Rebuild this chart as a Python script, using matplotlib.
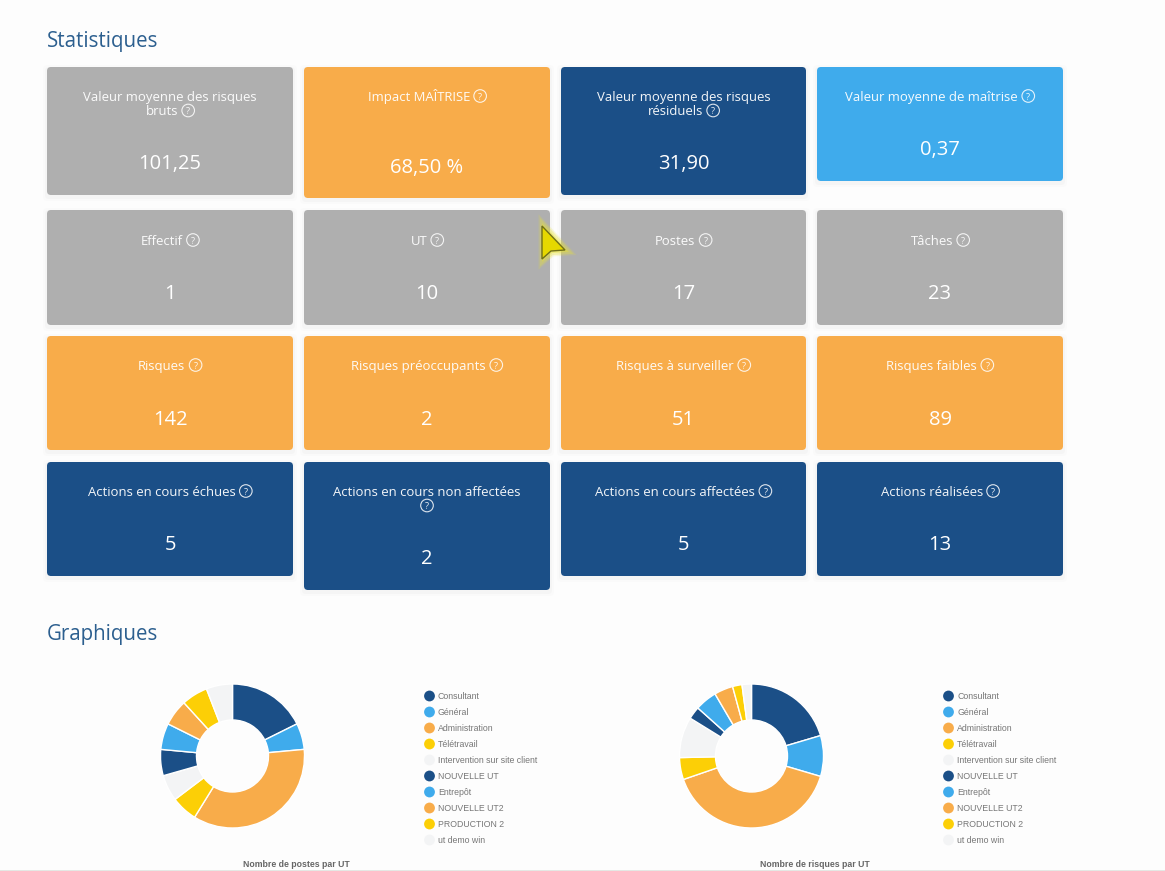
import matplotlib
matplotlib.use("Agg")
import matplotlib.pyplot as plt
from matplotlib.patches import FancyBboxPatch, Circle, Polygon, Rectangle

W, H = 1165, 871
FONT = "Open Sans"

GRAY, ORANGE, NAVY, BLUE = "#afafaf", "#f8ac4a", "#1b4f87", "#3fabec"
YELLOW, LIGHT = "#fccf06", "#f3f4f5"

card_labels = [
    ["Valeur moyenne des risques\nbruts", "Impact MAÎTRISE", "Valeur moyenne des risques\nrésiduels", "Valeur moyenne de maîtrise"],
    ["Effectif", "UT", "Postes", "Tâches"],
    ["Risques", "Risques préoccupants", "Risques à surveiller", "Risques faibles"],
    ["Actions en cours échues", "Actions en cours non affectées\n", "Actions en cours affectées", "Actions réalisées"],
]
card_values = [
    ["101,25", "68,50 %", "31,90", "0,37"],
    ["1", "10", "17", "23"],
    ["142", "2", "51", "89"],
    ["5", "2", "5", "13"],
]
card_colors = [
    [GRAY, ORANGE, NAVY, BLUE],
    [GRAY, GRAY, GRAY, GRAY],
    [ORANGE, ORANGE, ORANGE, ORANGE],
    [NAVY, NAVY, NAVY, NAVY],
]
col_left = [47, 304, 561, 817]
col_right = [293, 550, 806, 1063]
row_top = [67, 210, 336, 462]
row_bottom = [
    [195, 198, 195, 181],
    [325, 325, 325, 325],
    [450, 450, 450, 450],
    [576, 590, 576, 576],
]
value_baseline = [
    [169, 173, 169, 155],
    [299, 299, 299, 299],
    [425, 425, 425, 425],
    [550, 564, 550, 550],
]

legend_labels = ["Consultant", "Général", "Administration", "Télétravail",
                 "Intervention sur site client", "NOUVELLE UT", "Entrepôt",
                 "NOUVELLE UT2", "PRODUCTION 2", "ut demo win"]
slice_colors = [NAVY, BLUE, ORANGE, YELLOW, LIGHT, NAVY, BLUE, ORANGE, YELLOW, LIGHT]
postes_par_ut = [3, 1, 6, 1, 1, 1, 1, 1, 1, 1]
risques_par_ut = [29, 13, 57, 7, 13, 4, 7, 6, 3, 3]

fig = plt.figure(figsize=(W / 100, H / 100), dpi=100, facecolor="#fdfdfd")
ax = fig.add_axes([0, 0, 1, 1])
ax.set_xlim(0, W)
ax.set_ylim(H, 0)
ax.axis("off")

ax.text(47, 47, "Statistiques", color="#2c5f8f", fontsize=14.8, family=FONT, va="baseline")
ax.text(47, 640, "Graphiques", color="#2c5f8f", fontsize=14.8, family=FONT, va="baseline")

renderer = fig.canvas.get_renderer()


def help_icon(cx, cy):
    ax.add_patch(Circle((cx, cy), 6.3, fill=False, ec="white", lw=0.8, alpha=0.85, zorder=4))
    ax.text(cx, cy, "?", color="white", fontsize=6.5, family=FONT, ha="center",
            va="center_baseline", alpha=0.9, zorder=4)


for r, row in enumerate(card_labels):
    for c, label in enumerate(row):
        x0, x1 = col_left[c], col_right[c]
        y0, y1 = row_top[r], row_bottom[r][c]
        for grow, alpha in ((4, 0.012), (2, 0.02)):
            ax.add_patch(FancyBboxPatch((x0 + 4 - grow, y0 + 6 - grow), x1 - x0 - 8 + 2 * grow,
                                        y1 - y0 - 8 + 2 * grow,
                                        boxstyle="round,pad=4", fc="#000000",
                                        ec="none", alpha=alpha, zorder=1))
        ax.add_patch(FancyBboxPatch((x0 + 4, y0 + 4), x1 - x0 - 8, y1 - y0 - 8,
                                    boxstyle="round,pad=4", fc=card_colors[r][c], ec="none", zorder=2))
        cx = (x0 + x1) / 2
        lines = label.split("\n")
        ly = row_top[r] + 29 if r != 1 else row_top[r] + 30
        for i, line in enumerate(lines):
            yy = ly + i * 14.5
            last = i == len(lines) - 1
            if not line:
                help_icon(cx, yy)
                continue
            icon_w = 16.5 if last else 0
            t = ax.text(cx - icon_w / 2, yy + 4.5, line, color="white", fontsize=9.45, family=FONT,
                        ha="center", va="baseline", zorder=4, alpha=0.95)
            if last:
                bb = t.get_window_extent(renderer)
                help_icon(bb.x1 + 10.2, yy)
        ax.text(cx, value_baseline[r][c], card_values[r][c], color="white", fontsize=14.5, family=FONT,
                ha="center", va="baseline", zorder=4)

# mouse cursor with its highlight
for grow, alpha in ((5, 0.18), (3, 0.3)):
    ax.add_patch(Polygon([(542, 223), (542, 262), (552, 253), (569, 252)], closed=True,
                         fc="#e8e23a", ec="#e8e23a", lw=grow, alpha=alpha, zorder=5))
ax.add_patch(Polygon([(542, 226), (542, 259), (551, 251), (565, 250)], closed=True,
                     fc="#e6d800", ec="#6f6f18", lw=1.0, zorder=6))

charts = [
    (232.5, 756, postes_par_ut, 429, "Nombre de postes par UT", 296),
    (751.5, 756, risques_par_ut, 948, "Nombre de risques par UT", 815),
]
R = 72
for cx, cy, vals, lx, caption, capx in charts:
    pie_ax = fig.add_axes([(cx - R) / W, 1 - (cy + R) / H, 2 * R / W, 2 * R / H])
    pie_ax.pie(vals, colors=slice_colors, startangle=90, counterclock=False, radius=1,
               wedgeprops=dict(width=0.5, edgecolor="white", linewidth=1.0))
    pie_ax.set_xlim(-1, 1)
    pie_ax.set_ylim(-1, 1)
    for i, (lab, col) in enumerate(zip(legend_labels, slice_colors)):
        yy = 696 + 16 * i
        ax.add_patch(Circle((lx + 0.5, yy), 5.4, fc=col, ec="none"))
        ax.text(lx + 9, yy + 0.2, lab, color="#777777", fontsize=6.3, family="Liberation Sans", va="center")
    ax.text(capx, 864, caption, color="#666666", fontsize=6.3, family="Liberation Sans",
            weight="bold", ha="center", va="center")

ax.add_patch(Rectangle((0, 869.5), W, 2, fc="#e4e8e4", ec="none"))

fig.savefig("out.png", dpi=100, facecolor=fig.get_facecolor())
